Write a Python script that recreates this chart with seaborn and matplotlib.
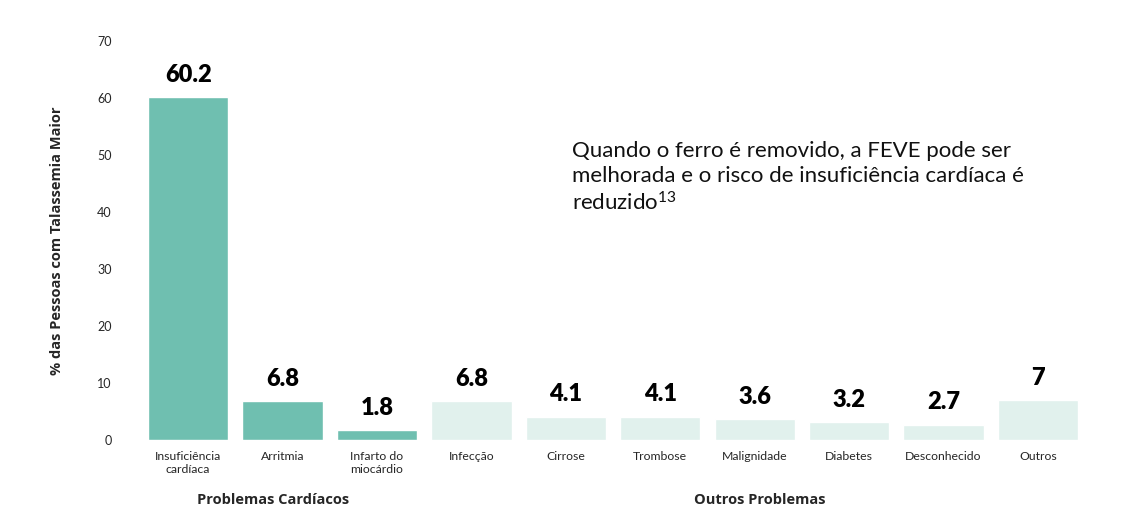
import matplotlib
matplotlib.use("Agg")
import matplotlib.pyplot as plt
import seaborn as sns
import pandas as pd

# data
categories = ["Insuficiência\ncardíaca", "Arritmia", "Infarto do\nmiocárdio", "Infecção",
              "Cirrose", "Trombose", "Malignidade", "Diabetes", "Desconhecido", "Outros"]
values = [60.2, 6.8, 1.8, 6.8, 4.1, 4.1, 3.6, 3.2, 2.7, 7]
value_labels = ["60.2", "6.8", "1.8", "6.8", "4.1", "4.1", "3.6", "3.2", "2.7", "7"]
groups = ["Problemas Cardíacos"] * 3 + ["Outros Problemas"] * 7
group_colors = {"Problemas Cardíacos": "#6fbfb0", "Outros Problemas": "#e1f1ed"}

df = pd.DataFrame({"cat": categories, "val": values, "grp": groups})

sns.set_theme(style="white")
plt.rcParams["font.family"] = ["Lato", "DejaVu Sans"]
plt.rcParams["mathtext.fontset"] = "custom"
plt.rcParams["mathtext.rm"] = "Lato"
plt.rcParams["mathtext.default"] = "regular"

bold_font = ["Open Sans", "DejaVu Sans"]

fig = plt.figure(figsize=(11.24, 5.17), dpi=100)
ax = fig.add_axes([0.1254, 0.149, 0.84, 0.772])

sns.barplot(data=df, x="cat", y="val", hue="grp", palette=group_colors,
            dodge=False, width=0.85, legend=False, saturation=1, ax=ax)

for cont in ax.containers:
    labs = [value_labels[int(round(b.get_x() + b.get_width() / 2))] for b in cont]
    ax.bar_label(cont, labels=labs, padding=8, fontsize=17, fontweight="heavy",
                 color="black")

ax.set_ylim(0, 70)
ax.set_xlim(-0.5, 9.5)
ax.set_yticks(range(0, 71, 10))
ax.tick_params(axis="y", labelsize=9, length=0, pad=21)
ax.tick_params(axis="x", labelsize=8.8, length=0, pad=8)
for s in ax.spines.values():
    s.set_visible(False)
ax.set_xlabel("")
ax.set_ylabel("% das Pessoas com Talassemia Maior", fontsize=10.5, fontweight="bold",
              family=bold_font, labelpad=24)

# group labels under the categories
fig.text(273 / 1124, 1 - 500 / 517, "Problemas Cardíacos", ha="center", va="center",
         fontsize=10.5, fontweight="bold", family=bold_font)
fig.text(760 / 1124, 1 - 500 / 517, "Outros Problemas", ha="center", va="center",
         fontsize=10.5, fontweight="bold", family=bold_font)

fig.text(572 / 1124, 1 - 141 / 517,
         "Quando o ferro é removido, a FEVE pode ser\n"
         "melhorada e o risco de insuficiência cardíaca é\n"
         "reduzido$^{13}$",
         ha="left", va="top", fontsize=16, linespacing=1.3, color="#111111")

fig.savefig("out.png", dpi=100)
